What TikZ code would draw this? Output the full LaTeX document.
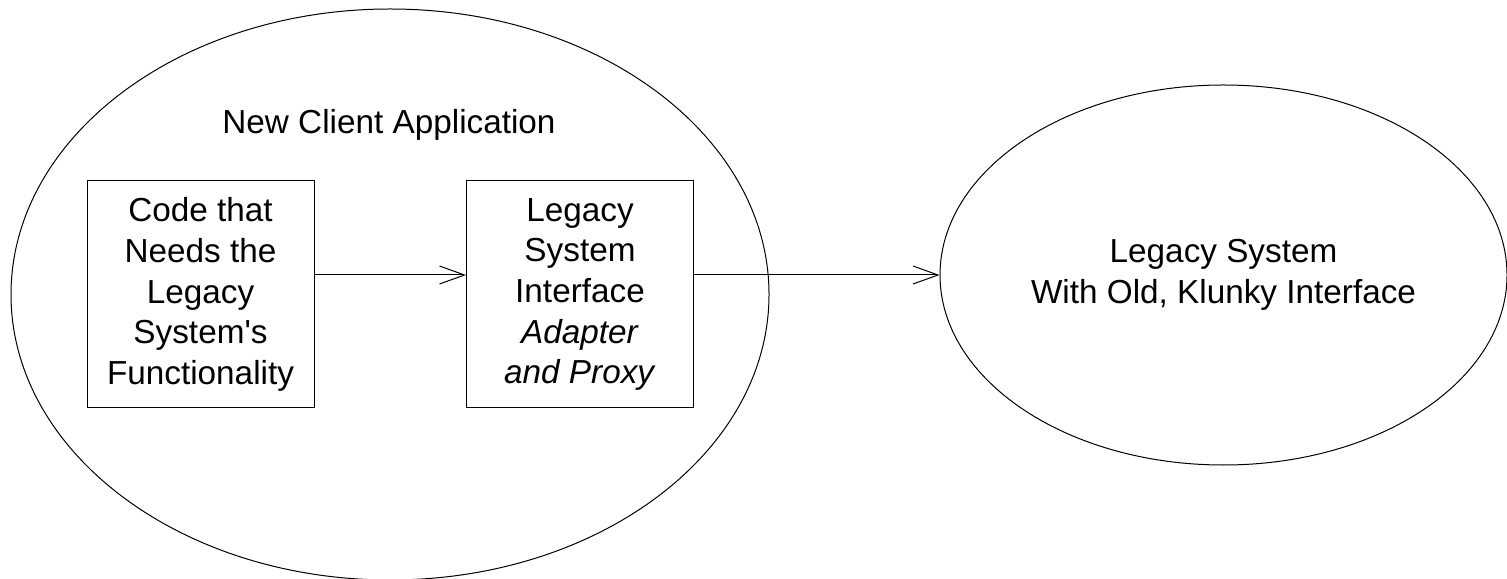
\documentclass[tikz,border=0pt]{standalone}
\usepackage{fontspec}
\setmainfont{Liberation Sans}
\usepackage{tikz}
\usetikzlibrary{shapes.geometric,arrows.meta}

\begin{document}
\begin{tikzpicture}[x=0.5pt, y=0.5pt, line width=0.5pt,
    font=\fontsize{16.65}{20.35}\selectfont,
    part/.style={draw, rectangle, align=center, inner sep=0pt,
      minimum width=113.5pt, minimum height=113.5pt},
    world/.style={draw, ellipse, align=center, inner sep=0pt},
    call/.style={-{Straight Barb[length=12.5pt, width=9pt]}}]
          \useasboundingbox (0,0) rectangle (1507,578);
          \node[world, minimum width=379pt, minimum height=285.5pt] (client) at (390,283.5) {};
          \node (clientlabel) at (389,453) {New Client Application};
          \node[part] (code) at (200.5,283.5) {Code that\\Needs the\\Legacy\\System\textquotesingle s\\Functionality};
          \node[part] (adapter) at (580,283.5) {Legacy\\System\\Interface\\\textit{Adapter}\\\textit{and Proxy}};
          \node[world, minimum width=283.5pt, minimum height=190pt] (legacy) at (1223.5,303)
            {Legacy System\\With Old, Klunky Interface};
          \draw[call] (code.east |- legacy.west) -- (adapter.west |- legacy.west);
          \draw[call] (adapter.east |- legacy.west) -- (legacy.west);
        \end{tikzpicture}
\end{document}
